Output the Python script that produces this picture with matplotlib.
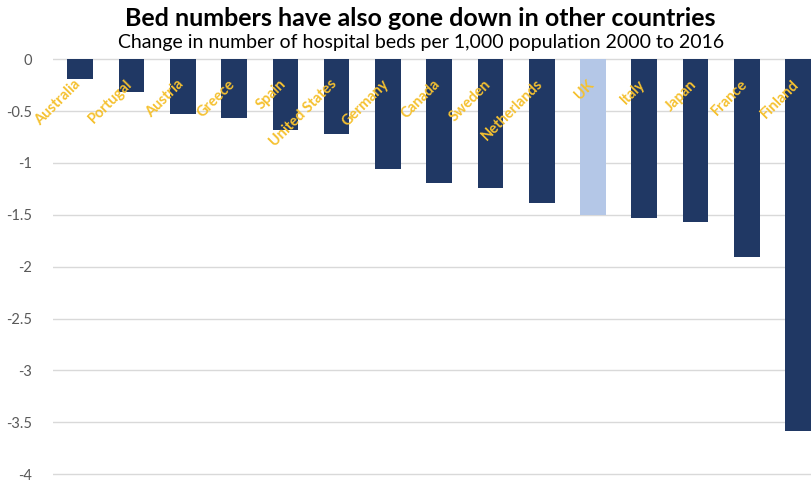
import matplotlib.pyplot as plt
import numpy as np

plt.rcParams['font.family'] = ['Lato', 'DejaVu Sans']

paises = ['Australia', 'Portugal', 'Austria', 'Greece', 'Spain', 'United States',
          'Germany', 'Canada', 'Sweden', 'Netherlands', 'UK', 'Italy', 'Japan',
          'France', 'Finland']
cambio = [-0.19, -0.32, -0.53, -0.57, -0.68, -0.72, -1.06, -1.19, -1.24, -1.39,
          -1.50, -1.53, -1.57, -1.91, -3.58]
yticks = [0, -0.5, -1, -1.5, -2, -2.5, -3, -3.5, -4]
ytick_labels = ['0', '-0.5', '-1', '-1.5', '-2', '-2.5', '-3', '-3.5', '-4']

azul = '#203864'
azul_claro = '#b4c7e7'
colores = [azul_claro if p == 'UK' else azul for p in paises]

fig = plt.figure(figsize=(8.12, 4.8), dpi=100)
ax = fig.add_axes([0.0653, 0.008, 0.9347, 0.873])
x = np.arange(len(paises))
ax.bar(x, cambio, width=0.5, color=colores, zorder=2)

# etiquetas de pais en diagonal, arriba junto al cero
for i, p in enumerate(paises):
    ax.text(i - 0.03, -0.22, p, rotation=45, rotation_mode='anchor',
            ha='right', va='center', color='#f5c130', fontsize=10.5,
            fontweight='bold', zorder=3)

ax.set_xlim(-0.53, 14.27)
ax.set_ylim(-4.02, 0.02)
ax.set_yticks(yticks)
ax.set_yticklabels(ytick_labels, color='#595959', fontsize=10.5)
ax.set_xticks([])
ax.tick_params(axis='y', length=0, pad=15)
ax.grid(axis='y', color='#d9d9d9', linewidth=1, zorder=0)
for s in ax.spines.values():
    s.set_visible(False)

fig.text(0.518, 0.962, 'Bed numbers have also gone down in other countries',
         ha='center', va='center', fontsize=18, fontweight='bold', color='black')
fig.text(0.518, 0.912, 'Change in number of hospital beds per 1,000 population 2000 to 2016',
         ha='center', va='center', fontsize=14, color='black')

fig.savefig('out.png', dpi=100)
